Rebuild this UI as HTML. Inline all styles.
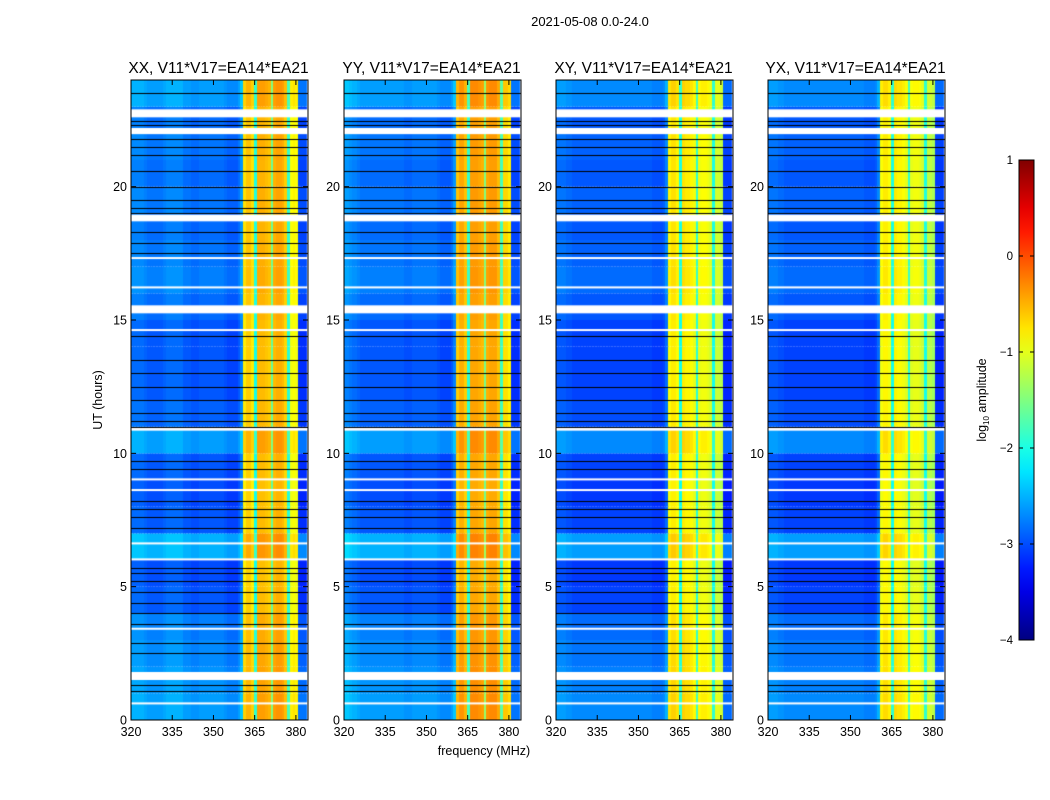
<!DOCTYPE html>
<html><head><meta charset="utf-8"><style>
body{margin:0;background:#fff;width:1050px;height:800px;overflow:hidden;font-family:"Liberation Sans","DejaVu Sans",sans-serif;}
#wrap{position:relative;width:1050px;height:800px;}
canvas{position:absolute;}
svg{position:absolute;left:0;top:0;}
</style></head><body>
<div id="wrap">
<svg id="ov" width="1050" height="800"></svg>
</div>
<script>
// ---- data ----
const panelTitles = ["XX, V11*V17=EA14*EA21","YY, V11*V17=EA14*EA21","XY, V11*V17=EA14*EA21","YX, V11*V17=EA14*EA21"];
const xTicks = [320,335,350,365,380];
const yTicks = [0,5,10,15,20];
const cbTicks = [1,0,-1,-2,-3,-4];
// frequency profiles: log10 amplitude per 1-MHz channel, 320..383
const freqXX = [-2.75,-2.75,-2.75,-2.75,-2.75,-2.8,-2.85,-2.85,-2.85,-2.85,-2.85,-2.85,-2.8,-2.75,-2.75,-2.75,-2.75,-2.75,-2.75,-2.85,-2.85,-2.85,-2.9,-2.9,-2.9,-2.85,-2.85,-2.85,-2.85,-2.85,-2.85,-2.85,-2.85,-2.85,-2.9,-2.95,-2.95,-2.95,-2.95,-2.85,-2.65,-0.75,-0.6,-0.6,-0.75,-2.0,-0.5,-0.5,-0.5,-0.55,-0.6,-1.6,-0.5,-0.45,-0.45,-0.5,-0.65,-1.9,-0.9,-0.85,-0.9,-3.05,-3.05,-3.05];
const freqYY = [-2.65,-2.65,-2.7,-2.75,-2.75,-2.8,-2.85,-2.85,-2.85,-2.85,-2.85,-2.85,-2.85,-2.85,-2.85,-2.85,-2.85,-2.85,-2.85,-2.85,-2.85,-2.85,-2.9,-2.9,-2.9,-2.85,-2.85,-2.85,-2.85,-2.85,-2.85,-2.85,-2.85,-2.85,-2.9,-2.95,-2.95,-2.95,-2.95,-2.85,-2.65,-0.6,-0.45,-0.45,-0.6,-1.9,-0.4,-0.4,-0.4,-0.45,-0.5,-1.5,-0.45,-0.4,-0.4,-0.4,-0.55,-1.8,-0.7,-0.7,-0.8,-3.05,-3.05,-3.05];
const freqXY = [-2.85,-2.85,-2.85,-2.85,-2.9,-2.9,-2.95,-2.95,-2.95,-2.95,-2.95,-2.95,-2.95,-2.95,-2.95,-2.95,-2.95,-2.95,-2.95,-2.95,-2.95,-2.95,-2.95,-2.95,-2.95,-2.95,-2.95,-2.95,-2.95,-2.95,-2.95,-2.95,-2.95,-2.95,-2.95,-3.0,-3.0,-3.0,-3.0,-2.95,-2.75,-0.85,-0.75,-0.75,-0.85,-2.0,-0.75,-0.8,-0.8,-0.85,-0.95,-1.9,-0.95,-0.9,-0.9,-0.95,-1.05,-2.0,-1.1,-1.1,-1.2,-3.1,-3.1,-3.1];
const freqYX = [-2.85,-2.85,-2.85,-2.85,-2.9,-2.9,-2.95,-2.95,-2.95,-2.95,-2.95,-2.95,-2.95,-2.95,-2.95,-2.95,-2.95,-2.95,-2.95,-2.95,-2.95,-2.95,-2.95,-2.95,-2.95,-2.95,-2.95,-2.95,-2.95,-2.95,-2.95,-2.95,-2.95,-2.95,-2.95,-3.0,-3.0,-3.0,-3.0,-2.95,-2.75,-0.9,-0.8,-0.8,-0.9,-2.0,-0.8,-0.85,-0.85,-0.9,-1.0,-1.9,-1.0,-0.95,-0.95,-1.0,-1.1,-2.0,-1.2,-1.2,-1.3,-3.1,-3.1,-3.1];
// per-hour background offset (0-1h ... 23-24h)
const hourOffset = [0.25,0.2,0.15,0.1,-0.1,-0.15,0.35,-0.1,-0.15,-0.1,0.25,-0.05,-0.1,-0.1,-0.1,0.0,0.1,0.05,0.0,0.05,0.0,0.05,0.0,0.25];
// flagged (white) intervals [start,end] in hours
const whiteStart = [22.6,21.97,18.7,17.3,16.2,15.25,14.6,10.85,9.0,8.6,6.6,6.0,3.4,1.5,0.6];
const whiteEnd   = [22.9,22.2,18.95,17.36,16.26,15.55,14.66,10.95,9.06,8.66,6.66,6.06,3.46,1.8,0.66];
// black lines (hours)
const blackLines = [22.45,22.3,21.8,21.5,21.2,20.6,20.0,19.5,19.2,19.0,18.3,17.9,17.5,14.4,13.5,13.0,12.5,12.0,11.5,11.2,11.0,9.7,9.4,8.2,7.9,7.6,7.2,5.7,5.5,5.2,4.8,4.4,4.0,3.6,2.9,2.5,1.3,1.1,23.5];
const freqs = [freqXX,freqYY,freqXY,freqYX];

// ---- layout ----
const panelX = [131,344,556,768], PW=177, PT=80, PH=640;
const fx = f => (f-320)*PW/64.4;
const ty = h => PH - h*PH/24;
const vmin=-4, vmax=1;
function jet(v){let t=(v-vmin)/(vmax-vmin);t=Math.max(0,Math.min(1,t));
 const c=x=>Math.round(255*Math.max(0,Math.min(1,x)));
 return [c(1.5-Math.abs(4*t-3)),c(1.5-Math.abs(4*t-2)),c(1.5-Math.abs(4*t-1))];}
const wrap=document.getElementById('wrap');
const ns="http://www.w3.org/2000/svg", ov=document.getElementById('ov');
function S(tag,attrs,txt){const e=document.createElementNS(ns,tag);for(const k in attrs)e.setAttribute(k,attrs[k]);if(txt!==undefined)e.textContent=txt;ov.appendChild(e);return e;}

freqs.forEach((fr,p)=>{
 const cv=document.createElement('canvas');cv.width=PW;cv.height=PH;
 cv.style.left=panelX[p]+'px';cv.style.top=PT+'px';
 
 
 wrap.insertBefore(cv,ov);
 const g=cv.getContext('2d');
 for(let h=0;h<24;h++){
  for(let c=0;c<fr.length;c++){
   const v=fr[c]+(fr[c]<-2?hourOffset[h]:hourOffset[h]*0.4);
   const [r,gg,b]=jet(v);g.fillStyle=`rgb(${r},${gg},${b})`;
   const x0=fx(320+c),x1=fx(321+c);
   g.fillRect(Math.floor(x0),ty(h+1),Math.ceil(x1)-Math.floor(x0),ty(h)-ty(h+1));
  }
 }
 g.fillStyle='#000';
 blackLines.forEach(h=>g.fillRect(0,Math.round(ty(h)),PW,1));
 g.fillStyle='#fff';
 whiteStart.forEach((s,i)=>g.fillRect(0,ty(whiteEnd[i]),PW,Math.max(2,ty(s)-ty(whiteEnd[i]))));
});

// axes
S('text',{x:590,y:26,'text-anchor':'middle','font-size':13,},'2021-05-08 0.0-24.0');
panelX.forEach((px,p)=>{
 S('rect',{x:px,y:PT,width:PW,height:PH,fill:'none',stroke:'#000','stroke-width':1,});
 S('text',{x:px+PW/2-1,y:73,'text-anchor':'middle','font-size':15.5,},panelTitles[p]);
 xTicks.forEach(t=>{const x=px+fx(t);
  S('line',{x1:x,x2:x,y1:PT+PH,y2:PT+PH-5,stroke:'#000',});
  S('line',{x1:x,x2:x,y1:PT,y2:PT+5,stroke:'#000',});
  S('text',{x:x,y:736,'text-anchor':'middle','font-size':12.5,},t);});
 yTicks.forEach(t=>{const y=PT+ty(t);
  S('line',{x1:px,x2:px+5,y1:y,y2:y,stroke:'#000',});
  S('line',{x1:px+PW,x2:px+PW-5,y1:y,y2:y,stroke:'#000',});
  S('text',{x:px-4,y:y+4.5,'text-anchor':'end','font-size':12.5,},t);});
});
S('text',{x:484,y:755,'text-anchor':'middle','font-size':12.5,},'frequency (MHz)');
S('text',{x:102,y:400,'text-anchor':'middle','font-size':12.5,transform:'rotate(-90 102 400)',},'UT (hours)');
// colorbar
const CBX=1019,CBY=160,CBW=15,CBH=480;
const defs=S('defs',{});const lg=document.createElementNS(ns,'linearGradient');lg.setAttribute('id','cbg');lg.setAttribute('x1','0');lg.setAttribute('y1','1');lg.setAttribute('x2','0');lg.setAttribute('y2','0');defs.appendChild(lg);
for(let i=0;i<=20;i++){const v=vmin+(vmax-vmin)*i/20;const [r,g,b]=jet(v);const st=document.createElementNS(ns,'stop');st.setAttribute('offset',i/20);st.setAttribute('stop-color',`rgb(${r},${g},${b})`);lg.appendChild(st);}
S('rect',{x:CBX,y:CBY,width:CBW,height:CBH,fill:'url(#cbg)',stroke:'#000',});
const cby=v=>CBY+(vmax-v)*CBH/(vmax-vmin);
cbTicks.forEach(t=>{const y=cby(t);
 S('line',{x1:CBX,x2:CBX+4,y1:y,y2:y,stroke:'#000',});
 S('line',{x1:CBX+CBW,x2:CBX+CBW-4,y1:y,y2:y,stroke:'#000',});
 S('text',{x:1013,y:y+4,'text-anchor':'end','font-size':11.5,},t===0?'0':(t<0?'\u2212'+(-t):t));});
const lt=S('text',{x:986,y:400,'text-anchor':'middle','font-size':12.5,transform:'rotate(-90 986 400)',});
lt.innerHTML='log<tspan font-size="8" dy="3">10</tspan><tspan dy="-3"> amplitude</tspan>';
</script>
</body></html>
